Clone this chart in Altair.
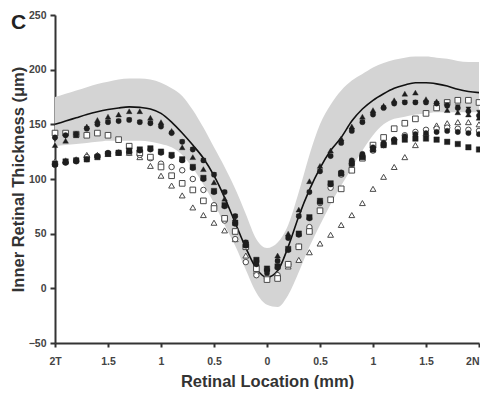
import altair as alt
import pandas as pd

x_mm = [-2.0, -1.9, -1.8, -1.7, -1.6, -1.5, -1.4, -1.3, -1.2, -1.1, -1.0,
        -0.9, -0.8, -0.7, -0.6, -0.5, -0.4, -0.3, -0.2, -0.1, 0.0,
        0.1, 0.2, 0.3, 0.4, 0.5, 0.6, 0.7, 0.8, 0.9, 1.0,
        1.1, 1.2, 1.3, 1.4, 1.5, 1.6, 1.7, 1.8, 1.9, 2.0]

normal_mean = [150, 153, 156, 159, 161.5, 163.5, 165, 166, 165.5, 164, 160,
               152, 142, 131, 119, 103, 83, 60, 37, 18, 10,
               16, 38, 66, 90, 110, 126, 138, 153, 164, 172,
               178, 183, 186, 188, 188, 187, 185, 182, 180, 179]
band_upper = [175, 178, 181, 184, 187, 189, 191, 192, 192, 191, 188,
              183, 176, 163, 147, 129, 111, 91, 68, 45, 37,
              42, 58, 88, 122, 150, 168, 181, 190, 196, 202,
              206, 209, 211, 212, 212, 211, 210, 208, 207, 207]
band_lower = [130, 131, 132, 133, 134, 135, 135, 135, 135, 134, 132,
              129, 122, 110, 95, 78, 58, 39, 17, -4, -15,
              -17, -6, 15, 38, 58, 77, 94, 110, 126, 140,
              150, 155, 157, 159, 160, 161, 161, 161, 161, 161]

filled_circle = [138, 140, 141, 146, 150, 152, 153, 154, 152, 151, 148,
                 142, 134, 127, 117, 104, 88, 66, 42, 22, 14,
                 25, 46, 66, 88, 107, 121, 133, 144, 152, 159,
                 165, 169, 170, 170, 170, 169, 167, 165, 162, 158]
filled_triangle = [131, 135, 140, 148, 154, 157, 159, 162, 162, 156, 152,
                   144, 129, 120, 109, 97, 82, 62, 40, 23, 18,
                   30, 50, 72, 98, 112, 126, 137, 148, 157, 163,
                   167, 172, 178, 179, 173, 171, 163, 161, 159, 156]
filled_triangle_down = [136, 139, 141, 146, 150, 152, 153, 154, 152, 151, 148,
                        142, 134, 127, 117, 104, 88, 66, 42, 22, 14,
                        25, 46, 66, 88, 107, 121, 133, 144, 152, 159,
                        165, 169, 170, 170, 170, 169, 168, 166, 164, 161]
filled_square = [114, 116, 117, 118, 120, 123, 124, 126, 127, 128, 125,
                 122, 118, 111, 101, 89, 76, 60, 40, 26, 18,
                 20, 36, 50, 65, 80, 96, 105, 114, 120, 127,
                 131, 134, 136, 137, 137, 136, 134, 132, 129, 127]
filled_circle_low = [113, 115, 116, 118, 121, 124, 124, 125, 126, 127, 124,
                     121, 117, 110, 100, 88, 75, 59, 39, 25, 17,
                     19, 35, 49, 64, 79, 95, 106, 117, 123, 129,
                     133, 136, 139, 141, 142, 143, 144, 143, 142, 141]
open_circle = [113, 115, 117, 120, 121, 123, 124, 124, 122, 119, 114,
               111, 108, 100, 90, 76, 62, 45, 24, 12, 10,
               12, 22, 38, 56, 78, 92, 104, 114, 120, 126,
               131, 136, 140, 143, 145, 146, 147, 146, 145, 144]
open_square = [142, 142, 141, 140, 142, 140, 136, 130, 124, 120, 111,
               103, 96, 90, 80, 73, 64, 52, 38, 18, 8,
               9, 22, 38, 52, 71, 81, 91, 108, 119, 131,
               138, 146, 151, 155, 160, 165, 170, 172, 172, 170]
open_triangle = [116, 117, 118, 122, 122, 123, 124, 124, 120, 112, 103,
                 94, 85, 74, 67, 60, 53, 45, 30, 16, 11,
                 13, 20, 26, 33, 41, 49, 58, 67, 78, 91,
                 102, 111, 120, 131, 142, 149, 151, 152, 152, 150]

df = pd.DataFrame({
    "x": x_mm, "mean": normal_mean, "upper": band_upper, "lower": band_lower,
    "fc": filled_circle, "ft": filled_triangle, "fd": filled_triangle_down,
    "fs": filled_square, "fc2": filled_circle_low,
    "oc": open_circle, "os": open_square, "ot": open_triangle,
})

FONT = "Liberation Sans"
x_axis = alt.Axis(
    values=[-2, -1.5, -1, -0.5, 0, 0.5, 1, 1.5, 2],
    labelExpr="datum.value == -2 ? '2T' : (datum.value == 2 ? '2N' : format(abs(datum.value), ''))",
    labelAlign={"condition": {"test": "datum.value == 2", "value": "right"}, "value": "center"},
    grid=False, tickSize=4, tickWidth=2, tickColor="#333", domainColor="#333", domainWidth=2,
    labelFont=FONT, labelFontWeight="bold", labelFontSize=10.5, labelColor="#444",
    labelPadding=9, title="Retinal Location (mm)", titleFont=FONT, titleFontSize=16.5,
    titleFontWeight="bold", titleColor="#333", titlePadding=7, labelFlush=False,
)
y_axis = alt.Axis(
    values=[-50, 0, 50, 100, 150, 200, 250], grid=False, tickSize=5, tickWidth=2,
    tickColor="#333", domainColor="#333", domainWidth=2,
    labelFont=FONT, labelFontWeight="bold", labelFontSize=10.5, labelColor="#444",
    labelPadding=4, title="Inner Retinal Thickness (\u03bcm)", titleFont=FONT,
    titleFontSize=16.5, titleFontWeight="bold", titleColor="#333", titlePadding=2,
)
xs = alt.Scale(domain=[-2, 2], nice=False)
ys = alt.Scale(domain=[-50, 250], nice=False)

def X():
    return alt.X("x:Q", scale=xs, axis=x_axis)

def Y(field):
    return alt.Y(f"{field}:Q", scale=ys, axis=y_axis)

base = alt.Chart(df)
band = base.mark_area(color="#d4d4d4", interpolate="monotone").encode(
    x=X(), y=Y("upper"), y2="lower:Q")
line = base.mark_line(color="#111", strokeWidth=1.6, interpolate="monotone").encode(
    x=X(), y=Y("mean"))

def pts(field, shape, filled, size):
    if filled:
        m = base.mark_point(shape=shape, filled=True, fill="#1e1e1e", stroke="#1e1e1e",
                            strokeWidth=0.4, size=size, opacity=1)
    else:
        m = base.mark_point(shape=shape, filled=True, fill="white", stroke="#4a4a4a",
                            strokeWidth=1, size=size, opacity=1)
    return m.encode(x=X(), y=Y(field))

layers = [
    band, line,
    pts("ot", "triangle-up", False, 34),
    pts("oc", "circle", False, 30),
    pts("os", "square", False, 32),
    pts("fs", "square", True, 30),
    pts("fc2", "circle", True, 28),
    pts("ft", "triangle-up", True, 32),
    pts("fd", "triangle-down", True, 24),
    pts("fc", "circle", True, 28),
]

letter = alt.Chart(pd.DataFrame({"t": ["C"]})).mark_text(
    font=FONT, fontSize=21, fontWeight="bold", color="#222", align="left", baseline="top"
).encode(text="t:N", x=alt.value(-44), y=alt.value(-3))

chart = alt.layer(*layers, letter).properties(
    width=424, height=328,
    padding={"left": 47, "top": 7, "right": 1, "bottom": 46},
    autosize=alt.AutoSizeParams(type="none"),
).configure_view(stroke=None)

chart.save("out.html", embed_options={"renderer": "svg", "actions": False})
